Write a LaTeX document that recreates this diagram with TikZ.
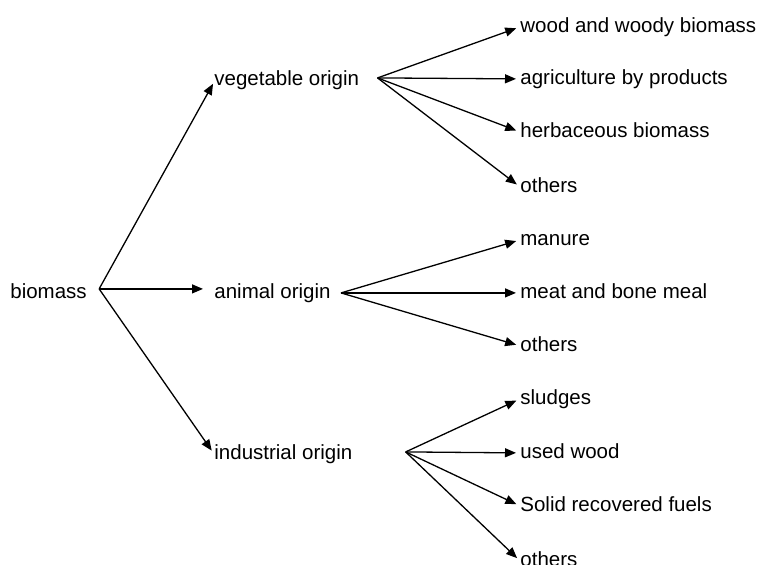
\documentclass[tikz,border=0pt]{standalone}
\usepackage{fontspec}
\setmainfont{Liberation Sans}
\usepackage{tikz}
\usetikzlibrary{
  arrows.meta,%
  calc,%
  positioning
}
\tikzset{>={Triangle[length=5.5pt, width=4.5pt]}}
\tikzset{font=\fontsize{10.25}{12}\selectfont}
\tikzset{lbl/.style={anchor=base west, inner sep=0pt, text height=0.72em, text depth=0.21em},
  arr/.style={->, line width=0.65pt, shorten >=2pt}}

\begin{document}
\begin{tikzpicture}[x=0.5pt, y=-0.5pt]
            \useasboundingbox (0,0) rectangle (759,564);
            \clip (0,0) rectangle (759,564);
            % first level
            \node[lbl] (bio) at (10,298) {biomass};
            \node[lbl] (veg) at (214,85) {vegetable origin};
            \node[lbl] (ani) at (214,298) {animal origin};
            \node[lbl] (ind) at (214,459) {industrial origin};
            % second level
            \node[lbl] (wood) at (520,32) {wood and woody biomass};
            \node[lbl] (agri) at (520,84) {agriculture by products};
            \node[lbl] (herb) at (520,137) {herbaceous biomass};
            \node[lbl] (vegoth) at (520,192) {others};
            \node[lbl] (man) at (520,245) {manure};
            \node[lbl] (meat) at (520,298) {meat and bone meal};
            \node[lbl] (anioth) at (520,351) {others};
            \node[lbl] (slu) at (520,404) {sludges};
            \node[lbl] (used) at (520,458) {used wood};
            \node[lbl] (srf) at (520,511) {Solid recovered fuels};
            \node[lbl] (indoth) at (520,566) {others};
            % forks
            \coordinate (biofork) at ($(bio.east)+(12,-4)$);
            \coordinate (vegfork) at ($(veg.east)+(18,-2)$);
            \coordinate (anifork) at ($(ani.east)+(10,0)$);
            \coordinate (indfork) at ($(ind.east)+(53,-2)$);
            \draw[arr, shorten >=1pt] (biofork) -- ($(veg.base west)+(0,-3)$);
            \draw[arr, shorten >=5.5pt] (biofork) -- (biofork -| ani.west);
            \draw[arr] (biofork) -- (ind.west);
            \foreach \n in {wood, agri, herb, vegoth}
              \draw[arr] (vegfork) -- (\n.west);
            \foreach \n in {man, meat, anioth}
              \draw[arr] (anifork) -- (\n.west);
            \foreach \n in {slu, used, srf, indoth}
              \draw[arr] (indfork) -- (\n.west);
        \end{tikzpicture}
\end{document}
